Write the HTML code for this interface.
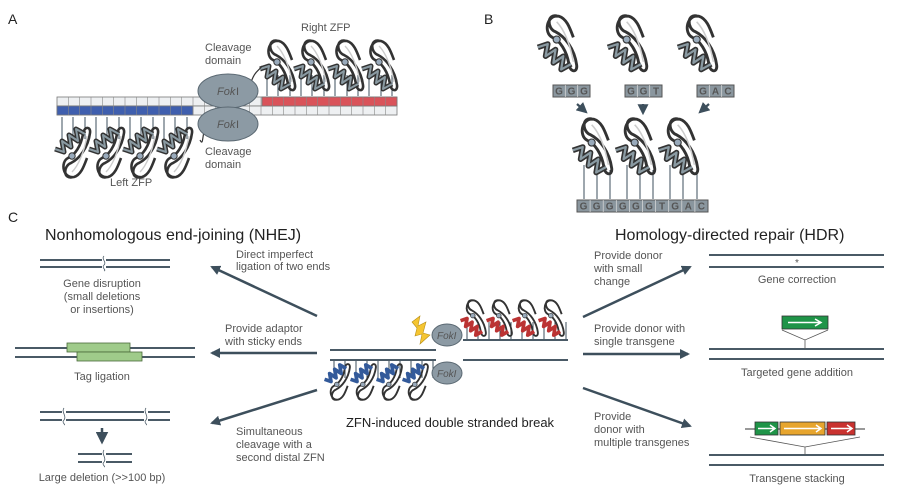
<!DOCTYPE html>
<html><head><meta charset="utf-8"><style>
html,body{margin:0;padding:0;background:#fff}
svg{display:block}
text{font-family:"Liberation Sans",sans-serif;fill:#555}
.h{fill:#222}
</style></head><body>
<svg width="898" height="494" viewBox="0 0 898 494" xmlns="http://www.w3.org/2000/svg">
<defs>
<symbol id="f" viewBox="0 0 36 56" overflow="visible">
<path d="M16 3 C6 0 6 14 14 17 C22 21 31 32 33 47 C34 54 27 54 26 46 C24 34 18 25 11 22 C3 18 6 1 17 3 C24 5 27 14 30 22" fill="none" stroke="#333" stroke-width="2.6"/>
<path d="M15 8 C21 14 27 27 30 44" fill="none" stroke="#ccc" stroke-width="1.4"/>
<path d="M-2 31 L7 28 L5 39 L14 33 L12 45 L21 39 L19 51 L28 46" fill="none" stroke="#333" stroke-width="5" stroke-linejoin="round"/>
<path d="M-2 31 L7 28 L5 39 L14 33 L12 45 L21 39 L19 51 L28 46" fill="none" stroke="#8a9aa2" stroke-width="2" stroke-linejoin="round"/>
<circle cx="15" cy="24" r="3.2" fill="#9ab" stroke="#333" stroke-width="1"/>
</symbol>
<symbol id="fr" viewBox="0 0 36 56" overflow="visible">
<path d="M16 3 C6 0 6 14 14 17 C22 21 31 32 33 47 C34 54 27 54 26 46 C24 34 18 25 11 22 C3 18 6 1 17 3 C24 5 27 14 30 22" fill="none" stroke="#333" stroke-width="2.6"/>
<path d="M-2 31 L7 28 L5 39 L14 33 L12 45 L21 39 L19 51 L28 46" fill="none" stroke="#b33" stroke-width="5" stroke-linejoin="round"/>
<circle cx="15" cy="24" r="3.2" fill="#9ab" stroke="#333" stroke-width="1"/>
</symbol>
<symbol id="fb" viewBox="0 0 36 56" overflow="visible">
<path d="M16 3 C6 0 6 14 14 17 C22 21 31 32 33 47 C34 54 27 54 26 46 C24 34 18 25 11 22 C3 18 6 1 17 3 C24 5 27 14 30 22" fill="none" stroke="#333" stroke-width="2.6"/>
<path d="M-2 31 L7 28 L5 39 L14 33 L12 45 L21 39 L19 51 L28 46" fill="none" stroke="#335a9a" stroke-width="5" stroke-linejoin="round"/>
<circle cx="15" cy="24" r="3.2" fill="#9ab" stroke="#333" stroke-width="1"/>
</symbol>
<marker id="a" viewBox="0 0 10 10" refX="8" refY="5" markerWidth="4" markerHeight="4" orient="auto"><path d="M0 0 L10 5 L0 10 z" fill="#3d4f5c"/></marker>
<marker id="s" viewBox="0 0 10 10" refX="8" refY="5" markerWidth="5" markerHeight="5" orient="auto"><path d="M0 0 L10 5 L0 10 z" fill="#3d4f5c"/></marker>
</defs>

<!-- Panel A -->
<text x="8" y="24" font-size="14" class="h">A</text>
<g stroke="#777" stroke-width="0.8">
<rect x="57" y="97" width="340" height="9" fill="#eef0f2"/>
<rect x="57" y="106" width="340" height="9" fill="#eef0f2"/>
<rect x="57" y="106" width="136" height="9" fill="#3f5fae"/>
<rect x="262" y="97" width="135" height="9" fill="#d9535a"/>
</g>
<g stroke="#888" stroke-width="0.6">
<path d="M68.3 97v18M79.7 97v18M91 97v18M102.3 97v18M113.7 97v18M125 97v18M136.3 97v18M147.7 97v18M159 97v18M170.3 97v18M181.7 97v18M193 97v18M204.3 97v18M215.7 97v18M227 97v18M238.3 97v18M249.7 97v18M261 97v18M272.3 97v18M283.7 97v18M295 97v18M306.3 97v18M317.7 97v18M329 97v18M340.3 97v18M351.7 97v18M363 97v18M374.3 97v18M385.7 97v18"/>
</g>
<g stroke="#3d4f5c" stroke-width="1">
<path d="M267 75v21M278 75v21M290 75v21M301 75v21M312 75v21M324 75v21M335 75v21M347 75v21M358 75v21M369 75v21M381 75v21M392 75v21"/>
<path d="M62 117v22M73 117v22M85 117v22M96 117v22M107 117v22M119 117v22M130 117v22M141 117v22M153 117v22M164 117v22M175 117v22M187 117v22"/>
</g>
<use href="#f" x="262" y="38" width="36" height="56"/>
<use href="#f" x="296" y="38" width="36" height="56"/>
<use href="#f" x="330" y="38" width="36" height="56"/>
<use href="#f" x="364" y="38" width="36" height="56"/>
<g transform="translate(0,298) scale(1,-1)">
<use href="#f" x="57" y="118" width="36" height="56"/>
<use href="#f" x="91" y="118" width="36" height="56"/>
<use href="#f" x="125" y="118" width="36" height="56"/>
<use href="#f" x="159" y="118" width="36" height="56"/>
</g>
<path d="M250 85 C255 70 258 72 262 66" fill="none" stroke="#333" stroke-width="1.2"/>
<path d="M200 140 C205 150 200 120 212 128" fill="none" stroke="#333" stroke-width="1.2"/>
<ellipse cx="228" cy="91" rx="30" ry="17" fill="#8c9aa4" stroke="#5a6872"/>
<ellipse cx="228" cy="124" rx="30" ry="17" fill="#8c9aa4" stroke="#5a6872"/>
<text x="217" y="95" font-size="11" font-style="italic" fill="#333">Fok</text><text x="236" y="95" font-size="11" fill="#333">I</text>
<text x="217" y="128" font-size="11" font-style="italic" fill="#333">Fok</text><text x="236" y="128" font-size="11" fill="#333">I</text>
<text x="205" y="51" font-size="11">Cleavage</text><text x="205" y="64" font-size="11">domain</text>
<text x="205" y="155" font-size="11">Cleavage</text><text x="205" y="168" font-size="11">domain</text>
<text x="301" y="31" font-size="11">Right ZFP</text>
<text x="110" y="186" font-size="11">Left ZFP</text>

<!-- Panel B -->
<text x="484" y="24" font-size="14" class="h">B</text>
<use href="#f" x="540" y="12" width="40" height="64"/>
<use href="#f" x="610" y="12" width="40" height="64"/>
<use href="#f" x="680" y="12" width="40" height="64"/>
<g font-size="10" font-weight="bold" font-family="Liberation Serif" text-anchor="middle">
<rect x="553" y="85" width="37" height="12" fill="#8a969e" stroke="#555"/>
<rect x="625" y="85" width="37" height="12" fill="#8a969e" stroke="#555"/>
<rect x="697" y="85" width="37" height="12" fill="#8a969e" stroke="#555"/>
<path d="M565.3 85v12M577.7 85v12M637.3 85v12M649.7 85v12M709.3 85v12M721.7 85v12" stroke="#ddd" stroke-width="0.7"/>
<text x="559" y="94.5" fill="#eee">G</text><text x="571.5" y="94.5" fill="#eee">G</text><text x="584" y="94.5" fill="#eee">G</text>
<text x="631" y="94.5" fill="#eee">G</text><text x="643.5" y="94.5" fill="#eee">G</text><text x="656" y="94.5" fill="#eee">T</text>
<text x="703" y="94.5" fill="#eee">G</text><text x="715.5" y="94.5" fill="#eee">A</text><text x="728" y="94.5" fill="#eee">C</text>
<rect x="577" y="200" width="131" height="12" fill="#8a969e" stroke="#555"/>
<path d="M590.1 200v12M603.2 200v12M616.3 200v12M629.4 200v12M642.5 200v12M655.6 200v12M668.7 200v12M681.8 200v12M694.9 200v12" stroke="#ddd" stroke-width="0.7"/>
<text x="583.5" y="209.5" fill="#eee">G</text><text x="596.6" y="209.5" fill="#eee">G</text><text x="609.7" y="209.5" fill="#eee">G</text><text x="622.8" y="209.5" fill="#eee">G</text><text x="635.9" y="209.5" fill="#eee">G</text><text x="649" y="209.5" fill="#eee">G</text><text x="662.1" y="209.5" fill="#eee">T</text><text x="675.2" y="209.5" fill="#eee">G</text><text x="688.3" y="209.5" fill="#eee">A</text><text x="701.4" y="209.5" fill="#eee">C</text>
</g>
<g stroke="#3d4f5c" stroke-width="2.2" marker-end="url(#s)">
<line x1="577" y1="104" x2="586" y2="112"/>
<line x1="643" y1="104" x2="643" y2="113"/>
<line x1="709" y1="104" x2="700" y2="112"/>
</g>
<g stroke="#3d4f5c" stroke-width="1">
<path d="M584 165v34M597 170v29M610 170v29M627 165v34M640 170v29M653 170v29M670 165v34M683 170v29M697 170v29"/>
</g>
<use href="#f" x="575" y="115" width="40" height="64"/>
<use href="#f" x="618" y="115" width="40" height="64"/>
<use href="#f" x="661" y="115" width="40" height="64"/>

<!-- Panel C -->
<text x="8" y="222" font-size="14" class="h">C</text>
<text x="45" y="240" font-size="16" class="h">Nonhomologous end-joining (NHEJ)</text>
<text x="615" y="240" font-size="16" class="h">Homology-directed repair (HDR)</text>

<g stroke="#4a5a66" stroke-width="2" fill="none">
<path d="M40 260H102M40 267H102M106 260H170M106 267H170"/>
<path d="M15 348H195M15 357H195"/>
<path d="M40 412H62M40 420H62M66 412H144M66 420H144M148 412H170M148 420H170"/>
<path d="M78 454H102M78 462H102M106 454H132M106 462H132"/>
<path d="M330 350H436M330 360H436M463 340H568M463 360H568"/>
<path d="M709 255H884M709 267H884"/>
<path d="M709 349H884M709 359H884"/>
<path d="M709 455H884M709 465H884"/>
</g>
<path d="M104 256 C101 259 107 262 104 265 C101 268 107 270 104 271M64 408 C61 412 67 416 64 420 C61 423 66 424 64 425M146 408 C143 412 149 416 146 420 C143 423 148 424 146 425M104 450 C101 454 107 458 104 462 C101 465 106 466 104 467" stroke="#4a5a66" stroke-width="0.8" fill="none"/>
<rect x="67" y="343" width="63" height="9" fill="#9fcb8a" stroke="#4a6a3a" stroke-width="0.8"/>
<rect x="77" y="352" width="65" height="9" fill="#9fcb8a" stroke="#4a6a3a" stroke-width="0.8"/>
<line x1="102" y1="428" x2="102" y2="442" stroke="#3d4f5c" stroke-width="2.5" marker-end="url(#s)"/>

<g font-size="11" text-anchor="middle">
<text x="102" y="287">Gene disruption</text>
<text x="102" y="300">(small deletions</text>
<text x="102" y="313">or insertions)</text>
<text x="102" y="380">Tag ligation</text>
<text x="102" y="481">Large deletion (&gt;&gt;100 bp)</text>
<text x="797" y="283">Gene correction</text>
<text x="797" y="376">Targeted gene addition</text>
<text x="797" y="482">Transgene stacking</text>
</g>
<g font-size="11">
<text x="236" y="258">Direct imperfect</text><text x="236" y="270">ligation of two ends</text>
<text x="225" y="332">Provide adaptor</text><text x="225" y="345">with sticky ends</text>
<text x="236" y="435">Simultaneous</text><text x="236" y="448">cleavage with a</text><text x="236" y="461">second distal ZFN</text>
<text x="594" y="259">Provide donor</text><text x="594" y="272">with small</text><text x="594" y="285">change</text>
<text x="594" y="332">Provide donor with</text><text x="594" y="345">single transgene</text>
<text x="594" y="420">Provide</text><text x="594" y="433">donor with</text><text x="594" y="446">multiple transgenes</text>
</g>
<g stroke="#3d4f5c" stroke-width="2.5" marker-end="url(#a)">
<line x1="317" y1="316" x2="212" y2="267"/>
<line x1="317" y1="353" x2="212" y2="353"/>
<line x1="317" y1="390" x2="212" y2="423"/>
<line x1="583" y1="317" x2="690" y2="267"/>
<line x1="583" y1="354" x2="688" y2="354"/>
<line x1="583" y1="388" x2="690" y2="426"/>
</g>
<text x="797" y="266" font-size="10" text-anchor="middle" fill="#444">*</text>

<rect x="782" y="316" width="46" height="13" fill="#1f9448" stroke="#333" stroke-width="0.8"/>
<path d="M788 322.5H820M815 319L821 322.5L815 326" stroke="#fff" stroke-width="1.5" fill="none"/>
<path d="M782 330L805 340L828 330M805 340V349" stroke="#555" stroke-width="0.8" fill="none"/>
<path d="M745 429H865" stroke="#333" stroke-width="1"/>
<rect x="755" y="422" width="23" height="13" fill="#1f9448" stroke="#333" stroke-width="0.8"/>
<rect x="780" y="422" width="45" height="13" fill="#e7a52e" stroke="#333" stroke-width="0.8"/>
<rect x="827" y="422" width="28" height="13" fill="#c9322f" stroke="#333" stroke-width="0.8"/>
<path d="M758 428.5H774M770 425L775 428.5L770 432M784 428.5H820M816 425L821 428.5L816 432M831 428.5H851M847 425L852 428.5L847 432" stroke="#fff" stroke-width="1.5" fill="none"/>
<path d="M750 437L805 447L860 437M805 447V455" stroke="#555" stroke-width="0.8" fill="none"/>

<!-- center ZFN -->
<g stroke="#3d4f5c" stroke-width="1">
<path d="M467 322v17M478 322v17M489 322v17M500 322v17M511 322v17M522 322v17M533 322v17M544 322v17M555 322v17M566 322v17"/>
<path d="M334 361v17M345 361v17M356 361v17M367 361v17M378 361v17M389 361v17M400 361v17M411 361v17M422 361v17M433 361v17"/>
</g>
<use href="#fr" x="462" y="298" width="26" height="41"/>
<use href="#fr" x="488" y="298" width="26" height="41"/>
<use href="#fr" x="514" y="298" width="26" height="41"/>
<use href="#fr" x="540" y="298" width="26" height="41"/>
<g transform="translate(0,762) scale(1,-1)">
<use href="#fb" x="326" y="360" width="26" height="41"/>
<use href="#fb" x="352" y="360" width="26" height="41"/>
<use href="#fb" x="378" y="360" width="26" height="41"/>
<use href="#fb" x="404" y="360" width="26" height="41"/>
</g>
<path d="M412 322L420 316L418 326L426 322L423 333L430 335L420 344L422 334L415 336L417 328Z" fill="#f5c531" stroke="#b8901a" stroke-width="0.6"/>
<ellipse cx="447" cy="335" rx="15" ry="11" fill="#8c9aa4" stroke="#5a6872"/>
<ellipse cx="447" cy="373" rx="15" ry="11" fill="#8c9aa4" stroke="#5a6872"/>
<text x="437" y="339" font-size="10" font-style="italic" fill="#333">FokI</text>
<text x="437" y="377" font-size="10" font-style="italic" fill="#333">FokI</text>
<text x="450" y="427" font-size="13" text-anchor="middle" class="h">ZFN-induced double stranded break</text>
</svg>
</body></html>
